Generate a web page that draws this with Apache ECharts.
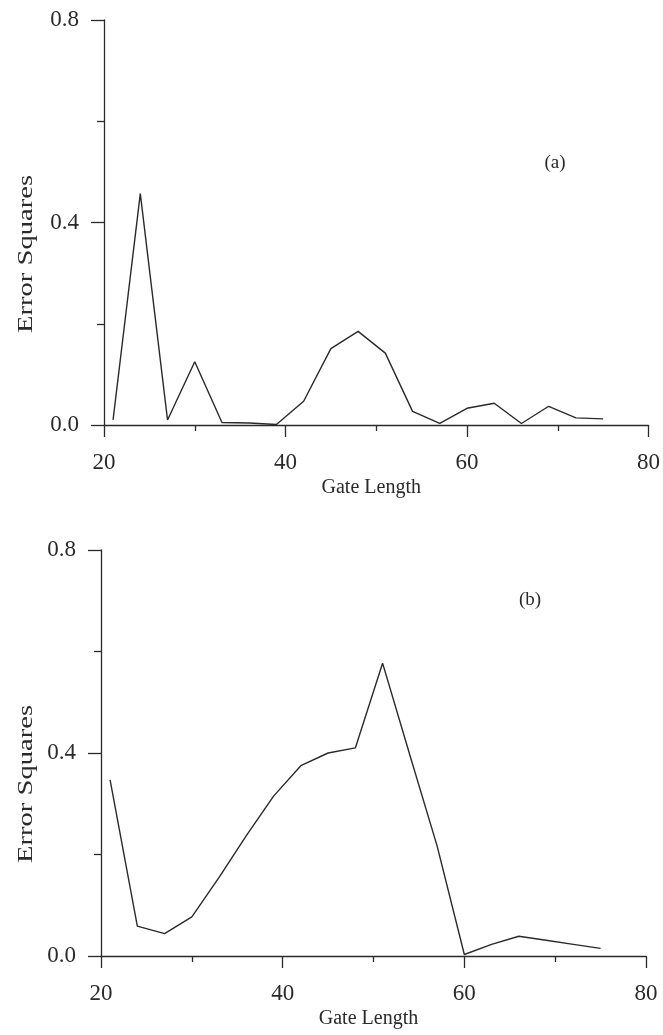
<!DOCTYPE html>
<html><head><meta charset="utf-8">
<script src="https://cdn.jsdelivr.net/npm/echarts@6/dist/echarts.min.js"></script>
<style>html,body{margin:0;padding:0;background:#fff}#c{width:663px;height:1035px}</style>
</head><body><div id="c"></div>
<script>
const gateLength = [21,24,27,30,33,36,39,42,45,48,51,54,57,60,63,66,69,72,75];
const errorA = [0.010,0.457,0.010,0.125,0.005,0.004,0.001,0.047,0.151,0.185,0.142,0.027,0.003,0.033,0.043,0.003,0.037,0.014,0.012];
const errorB = [0.347,0.059,0.044,0.077,0.155,0.237,0.315,0.375,0.400,0.410,0.577,0.396,0.217,0.003,0.023,0.039,0.031,0.023,0.015];
const xTicks = [20,40,60,80];
const yTicks = [0.0,0.4,0.8];
const panelLabels = ['(a)','(b)'];
const xName = 'Gate Length';
const yName = 'Error Squares';

const FONT = '"Liberation Serif","DejaVu Serif",serif';
const INK = '#2a2a2a';
const ls = {color: INK, width: 1.3};

function xAxisCfg(i){
  return {
    type:'value', gridIndex:i, min:xTicks[0], max:xTicks[xTicks.length-1], interval:xTicks[1]-xTicks[0],
    axisLine:{show:true, onZero:false, lineStyle:ls},
    axisTick:{show:true, length:12, lineStyle:ls},
    minorTick:{show:true, splitNumber:2, length:6, lineStyle:ls},
    splitLine:{show:false}, minorSplitLine:{show:false},
    axisLabel:{margin:26, fontFamily:FONT, fontSize:23, color:INK},
    name:xName, nameLocation:'middle', nameGap:53,
    nameTextStyle:{fontFamily:FONT, fontSize:20, color:INK, padding:[0,10,0,0]}
  };
}
function yAxisCfg(i){
  return {
    type:'value', gridIndex:i, min:yTicks[0], max:yTicks[yTicks.length-1], interval:yTicks[1]-yTicks[0],
    axisLine:{show:true, onZero:false, lineStyle:ls},
    axisTick:{show:true, length:13, lineStyle:ls},
    minorTick:{show:true, splitNumber:2, length:7, lineStyle:ls},
    splitLine:{show:false}, minorSplitLine:{show:false},
    axisLabel:{margin:25, fontFamily:FONT, fontSize:23, color:INK, formatter:v=>v.toFixed(1)}
  };
}
function seriesCfg(i, vals){
  return {
    type:'line', xAxisIndex:i, yAxisIndex:i, symbol:'none', animation:false,
    lineStyle:{color:INK, width:1.4},
    data: gateLength.map((g,k)=>[g, vals[k]])
  };
}
function yTitle(cy){
  return {type:'text', x:26, y:cy, rotation:Math.PI/2, scaleX:1.3, scaleY:1,
    style:{text:yName, font:'22px '+FONT, fill:INK, align:'center', verticalAlign:'middle'}};
}
const chart = echarts.init(document.getElementById('c'), null, {renderer:'canvas'});
chart.setOption({
  backgroundColor:'#fff',
  animation:false,
  grid:[
    {left:104, right:14, top:20, height:405},
    {left:101, right:17, top:550, height:406}
  ],
  xAxis:[xAxisCfg(0), xAxisCfg(1)],
  yAxis:[yAxisCfg(0), yAxisCfg(1)],
  series:[seriesCfg(0, errorA), seriesCfg(1, errorB)],
  graphic:[
    yTitle(254),
    yTitle(784),
    {type:'text', x:555, y:163, style:{text:panelLabels[0], font:'19px '+FONT, fill:INK, align:'center', verticalAlign:'middle'}},
    {type:'text', x:530, y:600, style:{text:panelLabels[1], font:'19px '+FONT, fill:INK, align:'center', verticalAlign:'middle'}}
  ]
});
</script></body></html>
